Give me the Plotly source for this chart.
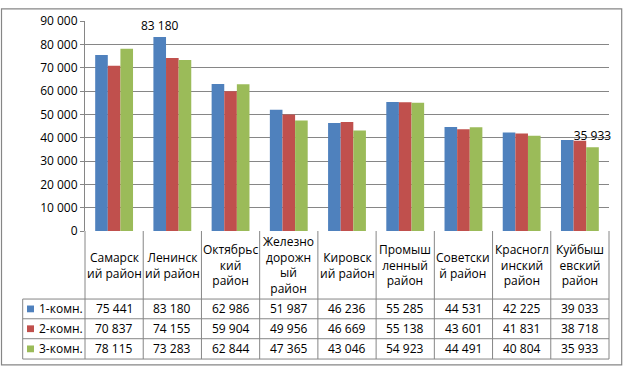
import plotly.graph_objects as go

categories = ["Самарский район", "Ленинский район", "Октябрьский район",
              "Железнодорожный район", "Кировский район", "Промышленный район",
              "Советский район", "Красноглинский район", "Куйбышевский район"]
header_labels = ["Самарск<br>ий район", "Ленинск<br>ий район", "Октябрьс<br>кий<br>район",
                 "Железно<br>дорожн<br>ый<br>район", "Кировск<br>ий район",
                 "Промыш<br>ленный<br>район", "Советски<br>й район",
                 "Красногл<br>инский<br>район", "Куйбыш<br>евский<br>район"]
series_names = ["1-комн.", "2-комн.", "3-комн."]
s1 = [75441, 83180, 62986, 51987, 46236, 55285, 44531, 42225, 39033]
s2 = [70837, 74155, 59904, 49956, 46669, 55138, 43601, 41831, 38718]
s3 = [78115, 73283, 62844, 47365, 43046, 54923, 44491, 40804, 35933]
labeled_points = {0: [1], 1: [], 2: [8]}  # series index -> category indices with data labels
y_ticks = [0, 10000, 20000, 30000, 40000, 50000, 60000, 70000, 80000, 90000]

colors = ["#4F81BD", "#C0504D", "#9BBB59"]
grid = "#868686"
FONT = "Open Sans"

W, H = 624, 371
L, R, T, B = 85, 15, 14, 140
PW, PH = W - L - R, H - T - B


def px(xp):
    return (xp - L) / PW


def py(yp):
    return (H - B - yp) / PH


def fmt(v):
    return f"{v:,}".replace(",", " ")


series = [s1, s2, s3]
n = len(categories)
fig = go.Figure()
for k, (name, vals) in enumerate(zip(series_names, series)):
    texts = [fmt(v) if i in labeled_points[k] else "" for i, v in enumerate(vals)]
    fig.add_trace(go.Bar(
        x=list(range(n)), y=vals, name=name, marker_color=colors[k],
        marker_line_width=0, text=texts, textposition="outside",
        constraintext="none",
        textfont=dict(family=FONT, size=12, color="#000000"),
        cliponaxis=False, showlegend=False, hoverinfo="skip",
    ))

shapes = []
ann = []
line = dict(color=grid, width=1)
# table geometry (pixels)
y_head_bot, y_r1, y_r2, y_bot = 301.3, 321.7, 342.3, 363.3
x_leg = 22.7
row_lines = [y_head_bot, y_r1, y_r2, y_bot]
for yl in row_lines:
    shapes.append(dict(type="line", xref="paper", yref="paper",
                       x0=px(x_leg), x1=1, y0=py(yl), y1=py(yl), line=line))
for i in range(n + 1):
    shapes.append(dict(type="line", xref="paper", yref="paper",
                       x0=i / n, x1=i / n, y0=0, y1=py(y_bot), line=line))
shapes.append(dict(type="line", xref="paper", yref="paper",
                   x0=px(x_leg), x1=px(x_leg), y0=py(y_head_bot), y1=py(y_bot), line=line))
# outer chart border
shapes.append(dict(type="rect", xref="paper", yref="paper",
                   x0=px(1.5), x1=px(621.7), y0=py(1.5), y1=py(369.3),
                   line=dict(color=grid, width=1.2), layer="below"))

# header labels
for i, lab in enumerate(header_labels):
    ann.append(dict(x=(i + 0.5) / n, y=py((231 + y_head_bot) / 2), xref="paper", yref="paper",
                    text=lab, showarrow=False, xanchor="center", yanchor="middle",
                    font=dict(family=FONT, size=12, color="#000000")))
# rows
row_tops = [y_head_bot, y_r1, y_r2]
row_bots = [y_r1, y_r2, y_bot]
for k, vals in enumerate(series):
    yc = (row_tops[k] + row_bots[k]) / 2
    for i, v in enumerate(vals):
        ann.append(dict(x=(i + 0.5) / n, y=py(yc), xref="paper", yref="paper",
                        text=fmt(v), showarrow=False, xanchor="center", yanchor="middle",
                        font=dict(family=FONT, size=12, color="#000000")))
    shapes.append(dict(type="rect", xref="paper", yref="paper",
                       x0=px(27), x1=px(34), y0=py(yc - 3.5), y1=py(yc + 3.5),
                       fillcolor=colors[k], line=dict(width=0)))
    ann.append(dict(x=px(37), y=py(yc), xref="paper", yref="paper",
                    text=series_names[k], showarrow=False, xanchor="left", yanchor="middle",
                    font=dict(family=FONT, size=12, color="#000000")))

fig.update_layout(
    width=W, height=H,
    margin=dict(l=L, r=R, t=T, b=B, pad=0),
    paper_bgcolor="white", plot_bgcolor="white",
    barmode="group", bargap=0.35, bargroupgap=0,
    separators=", ",
    xaxis=dict(range=[-0.5, n - 0.5], showticklabels=False, showgrid=False,
               zeroline=False, showline=False, ticks=""),
    yaxis=dict(range=[0, 90000], tickvals=y_ticks, tickformat=",d",
               showgrid=True, gridcolor=grid, gridwidth=1, zeroline=False,
               showline=True, linecolor=grid, linewidth=1,
               ticks="outside", ticklen=4, tickcolor=grid,
               tickfont=dict(family=FONT, size=12, color="#000000")),
    shapes=shapes, annotations=ann,
    font=dict(family=FONT),
)
fig.write_html("out.html", config={"displayModeBar": False, "staticPlot": True},
               post_script="document.body.style.margin='0';")
